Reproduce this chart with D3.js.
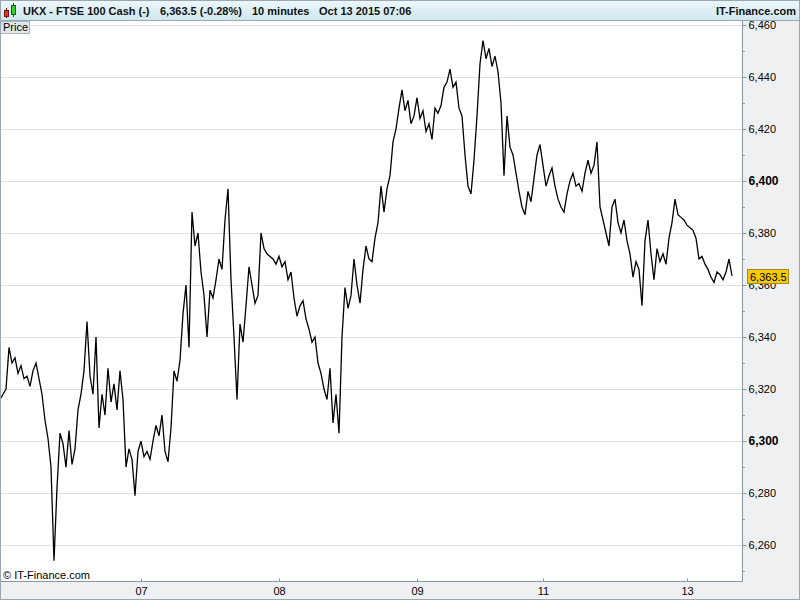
<!DOCTYPE html>
<html><head><meta charset="utf-8">
<script src="https://cdn.jsdelivr.net/npm/d3@7"></script>
<style>body{margin:0;background:#fff}svg{display:block;font-family:"Liberation Sans",Arial,sans-serif}</style>
</head><body><svg id="c" width="800" height="600"></svg>
<script>
// 10-minute closes (sampled), index = bar position
const prices = [6316,6318,6320,6336,6330,6332,6326,6329,6324,6325,6321,6327,6330,6324,6318,6308,6301,6290,6254,6282,
6303,6299,6290,6304,6291,6297,6312,6318,6327,6346,6325,6318,6340,6305,6318,6310,6328,6315,6322,6312,
6327,6316,6290,6297,6293,6279,6296,6300,6294,6296,6293,6300,6306,6302,6310,6296,6292,6305,6327,6323,
6331,6349,6360,6336,6388,6375,6380,6365,6356,6340,6358,6355,6362,6370,6366,6385,6397,6362,6340,6316,
6345,6338,6352,6367,6360,6353,6356,6380,6374,6372,6371,6370,6368,6371,6367,6369,6362,6365,6355,6348,
6352,6354,6347,6343,6338,6340,6330,6326,6320,6316,6328,6307,6318,6303,6340,6359,6351,6356,6370,6360,
6353,6366,6375,6370,6369,6378,6384,6398,6388,6397,6402,6415,6420,6428,6435,6427,6431,6422,6425,6432,
6424,6427,6419,6422,6416,6428,6426,6429,6436,6438,6443,6436,6438,6428,6425,6410,6398,6395,6408,6425,
6445,6454,6447,6451,6444,6448,6442,6430,6402,6425,6413,6410,6403,6396,6390,6387,6396,6392,6401,6410,
6414,6406,6398,6402,6405,6398,6393,6390,6388,6395,6400,6403,6398,6399,6396,6403,6408,6403,6406,6415,
6390,6385,6380,6375,6390,6393,6384,6380,6385,6377,6372,6363,6369,6366,6352,6377,6385,6372,6362,6374,
6369,6372,6368,6378,6384,6393,6387,6386,6385,6383,6382,6381,6378,6370,6371,6368,6366,6363,6361,6365,
6364,6362,6365,6370,6363.5];
const dayLabels = ["07","08","09","11","13"];
const dayIndex = [47,93,139,181,229];
const yTicks = [6260,6280,6300,6320,6340,6360,6380,6400,6420,6440,6460];
const lastPrice = 6363.5;
const headerTexts = ["UKX - FTSE 100 Cash (-)","6,363.5 (-0.28%)","10 minutes","Oct 13 2015 07:06"];

const svg = d3.select("#c");
const W=800,H=600, L=0, R=742, T=21, B=581;
const x = d3.scaleLinear().domain([0,247]).range([L,R-1]);
const y = d3.scaleLinear().domain([6246.2,6461.5]).range([B,T]);
const fmt = d3.format(",");

// backgrounds
svg.append("rect").attr("width",W).attr("height",H).attr("fill","#eff0f2");
svg.append("rect").attr("x",L).attr("y",T).attr("width",R-L).attr("height",B-T).attr("fill","#fff");

// header
const g = svg.append("defs").append("linearGradient").attr("id","hg").attr("x1",0).attr("y1",0).attr("x2",0).attr("y2",1);
g.append("stop").attr("offset","0").attr("stop-color","#eef8fb");
g.append("stop").attr("offset","1").attr("stop-color","#cfe7ef");
svg.append("rect").attr("x",0).attr("y",0).attr("width",W).attr("height",20).attr("fill","url(#hg)");
svg.append("line").attr("x1",0).attr("x2",W).attr("y1",20.5).attr("y2",20.5).attr("stroke","#9aa7b0");
// candle icon
svg.append("line").attr("x1",6.5).attr("x2",6.5).attr("y1",8).attr("y2",18).attr("stroke","#7a1010");
svg.append("rect").attr("x",4.5).attr("y",10.5).attr("width",4).attr("height",6).attr("fill","#e03030").attr("stroke","#7a1010");
svg.append("line").attr("x1",13.5).attr("x2",13.5).attr("y1",3).attr("y2",17).attr("stroke","#106010");
svg.append("rect").attr("x",11.5).attr("y",5.5).attr("width",4).attr("height",9).attr("fill","#30d030").attr("stroke","#106010");
const hx = [23,160,252,319];
svg.append("g").selectAll("text").data(headerTexts).join("text")
  .attr("x",(d,i)=>hx[i]).attr("y",15).attr("font-size",11).attr("font-weight","bold").attr("fill","#111").text(d=>d);
svg.append("text").attr("x",796).attr("y",15).attr("text-anchor","end").attr("font-size",11).attr("font-weight","bold").attr("fill","#111").text("IT-Finance.com");

// gridlines
svg.append("g").selectAll("line").data(yTicks).join("line")
  .attr("x1",L).attr("x2",R).attr("y1",d=>Math.round(y(d))+0.5).attr("y2",d=>Math.round(y(d))+0.5)
  .attr("stroke","#e2e2e2");

// right axis
const ya = svg.append("g").attr("transform",`translate(${R+0.5},0)`)
  .call(d3.axisRight(y).tickValues(yTicks).tickSize(4).tickPadding(2).tickFormat(fmt));
ya.select(".domain").remove();
ya.selectAll(".tick line").attr("stroke","#8a96a0");
ya.selectAll(".tick text").attr("fill","#000").attr("font-family","Liberation Sans, Arial, sans-serif")
  .attr("font-weight",d=>d%100===0?"bold":"normal").attr("font-size",d=>d%100===0?12:11);
const minor = d3.range(6250,6461,10).filter(v=>v%20!==0);
svg.append("g").selectAll("line").data(minor).join("line")
  .attr("x1",R).attr("x2",R+3).attr("y1",d=>Math.round(y(d))+0.5).attr("y2",d=>Math.round(y(d))+0.5).attr("stroke","#8a96a0");
svg.append("line").attr("x1",R+0.5).attr("x2",R+0.5).attr("y1",T).attr("y2",B).attr("stroke","#8a96a0");

// bottom axis
const xa = svg.append("g").attr("transform",`translate(0,${B+0.5})`)
  .call(d3.axisBottom(x).tickValues(dayIndex).tickSize(3).tickPadding(3).tickFormat((d,i)=>dayLabels[i]));
xa.select(".domain").remove();
xa.selectAll(".tick line").attr("stroke","#8a96a0").attr("transform","translate(0,-3)");
xa.selectAll(".tick text").attr("font-size",11).attr("fill","#000").attr("font-family","Liberation Sans, Arial, sans-serif");
svg.append("line").attr("x1",0).attr("x2",R+1).attr("y1",B+0.5).attr("y2",B+0.5).attr("stroke","#8a96a0");

// price line
svg.append("path").datum(prices)
  .attr("d",d3.line().x((d,i)=>x(i)).y(d=>y(d)))
  .attr("fill","none").attr("stroke","#000").attr("stroke-width",1.3);

// Price tag
svg.append("rect").attr("x",0.5).attr("y",21.5).attr("width",29).attr("height",12).attr("fill","#dfe6ec").attr("stroke","#a9b5bf");
svg.append("text").attr("x",3).attr("y",31).attr("font-size",11).attr("fill","#000").text("Price");

// copyright
svg.append("text").attr("x",3).attr("y",579).attr("font-size",11).attr("fill","#000").text("© IT-Finance.com");

// last price label
const ly = y(lastPrice);
svg.append("rect").attr("x",R+5.5).attr("y",Math.round(ly)-6.5).attr("width",41).attr("height",14).attr("fill","#f7c900").attr("stroke","#a08a30");
svg.append("text").attr("x",R+8).attr("y",Math.round(ly)+5).attr("font-size",11).attr("fill","#000").text(fmt(lastPrice));

// outer borders
svg.append("rect").attr("x",0.5).attr("y",0.5).attr("width",W-1).attr("height",H-1).attr("fill","none").attr("stroke","#9aa7b0");
</script></body></html>
